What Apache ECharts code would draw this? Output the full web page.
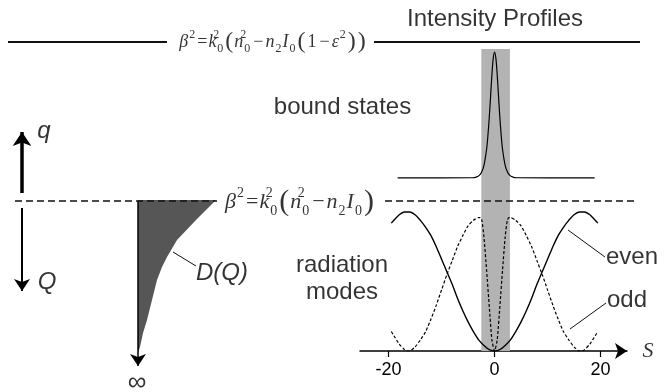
<!DOCTYPE html>
<html>
<head>
<meta charset="utf-8">
<script src="https://cdn.jsdelivr.net/npm/echarts@6/dist/echarts.min.js"></script>
<style>
  html, body { margin: 0; background: #fff; }
  #chart { width: 672px; height: 392px; }
</style>
</head>
<body>
<div id="chart"></div>
<script>
// intensity profiles (right panel), s on the x axis
const evenS = [-19.5, -19, -18, -17, -16.5, -16, -15, -14, -13, -12, -11, -10, -9, -8, -7, -6, -5, -4, -3, -2, -1, 0,
  1, 2, 3, 4, 5, 6, 7, 8, 9, 10, 11, 12, 13, 14, 15, 16, 16.5, 17, 18, 19, 19.5]
const evenV = [0.92, 0.94, 0.98, 1.0, 1.0, 1.0, 0.98, 0.94, 0.89, 0.83, 0.75, 0.66, 0.57, 0.48, 0.38, 0.29, 0.21, 0.14, 0.08, 0.04, 0.01, 0,
  0.01, 0.04, 0.08, 0.14, 0.21, 0.29, 0.38, 0.48, 0.57, 0.66, 0.75, 0.83, 0.89, 0.94, 0.98, 1.0, 1.0, 1.0, 0.98, 0.94, 0.92]

const oddS = [-19.5, -19, -18, -17, -16.5, -16, -15, -14, -13, -12, -11, -10, -9, -8, -7, -6, -5, -4, -3, -2.7, -2.4, -2, -1.5, -1, -0.5, 0,
  0.5, 1, 1.5, 2, 2.4, 2.7, 3, 4, 5, 6, 7, 8, 9, 10, 11, 12, 13, 14, 15, 16, 16.5, 17, 18, 19, 19.5]
const oddV = [0.14, 0.11, 0.05, 0.01, 0, 0, 0.03, 0.08, 0.14, 0.23, 0.33, 0.44, 0.55, 0.65, 0.75, 0.83, 0.90, 0.94, 0.96, 0.96, 0.94, 0.82, 0.58, 0.32, 0.08, 0,
  0.08, 0.32, 0.58, 0.82, 0.94, 0.96, 0.96, 0.94, 0.90, 0.83, 0.75, 0.65, 0.55, 0.44, 0.33, 0.23, 0.14, 0.08, 0.03, 0, 0, 0.01, 0.05, 0.11, 0.14]

const boundS = [-18.3, -4, -3.5, -3, -2.5, -2, -1.5, -1.25, -1, -0.75, -0.5, -0.25, 0, 0.25, 0.5, 0.75, 1, 1.25, 1.5, 2, 2.5, 3, 3.5, 4, 18.9]
const boundV = [1.245, 1.247, 1.251, 1.26, 1.283, 1.336, 1.453, 1.552, 1.68, 1.832, 1.987, 2.106, 2.151, 2.106, 1.987, 1.832, 1.68, 1.552, 1.453, 1.336, 1.283, 1.26, 1.251, 1.247, 1.245]

const bandS = [-2.5, 2.9]
const bandTop = 2.173
const sTicks = [-20, 0, 20]

// schematic (left panel + level lines), in canvas-sized diagram units
const dqX = [216, 196, 177, 167, 162, 157, 152, 147, 143, 140, 138]
const dqY = [200, 220, 240, 257, 267, 280, 300, 320, 333, 347, 353]
const solidLevels = [[[8, 42], [167, 42]], [[374, 42], [640, 42]]]
const dashedLevels = [[[15, 201], [217, 201]], [[385, 201], [638, 201]]]
const upArrow = [[22, 193], [22, 132]]
const downArrow = [[22, 208], [22, 291]]
const dqArrow = [[138, 201], [138, 366]]
const leaders = [[[173, 252], [196, 266]], [[568, 230], [605, 257]], [[570, 329], [606, 303]]]

const plainTexts = ['Intensity Profiles', 'bound states', 'radiation', 'modes', 'even', 'odd']
const plainPos = [[495, 19], [342.5, 107], [342, 265], [342, 292], [632, 257], [627, 300]]
const italicTexts = ['q', 'Q', 'D(Q)']
const italicPos = [[44, 131], [47, 282], [222, 273]]

const formulaTop = '{v|β}{sp|2}{r|=}{v|k}{st|2}{sb|0}{p|(}{v|n}{st|2}{sb|0}{m|−}{v|n}{sb|2}{v|I}{sb|0}{p|(}{r|1}{m|−}{v|ε}{sp|2}{p|)}{p|)}'
const formulaMid = '{v|β}{sp|2}{r|=}{v|k}{st|2}{sb|0}{p|(}{v|n}{st|2}{sb|0}{m|−}{v|n}{sb|2}{v|I}{sb|0}{p|)}'
const formulaPos = [[273, 42], [300, 202]]

const sans = 'Liberation Sans'
const serif = 'Liberation Serif'
const ink = '#000'
const zip = (xs, ys) => xs.map((x, i) => [x, ys[i]])

// rich styles for the math labels at a given base size
const mathRich = (fs) => {
  const sub = Math.round(fs * 0.64)
  const lh = Math.round(fs * 1.45)
  return {
    v: { fontFamily: serif, fontStyle: 'italic', fontSize: fs, lineHeight: lh, color: ink },
    r: { fontFamily: serif, fontSize: fs, lineHeight: lh, color: ink, padding: [0, 1] },
    m: { fontFamily: serif, fontSize: fs, lineHeight: lh, color: ink, padding: [0, 2] },
    p: { fontFamily: serif, fontSize: Math.round(fs * 1.36), lineHeight: lh, color: ink, padding: [0, 1] },
    sp: { fontFamily: serif, fontSize: sub, lineHeight: sub, verticalAlign: 'top', color: ink, padding: [0, 1] },
    st: { fontFamily: serif, fontSize: sub, lineHeight: sub, verticalAlign: 'top', width: 0, color: ink },
    sb: { fontFamily: serif, fontSize: sub, lineHeight: sub + 2, verticalAlign: 'bottom', color: ink, padding: [0, 1] }
  }
}

const textItems = []
plainTexts.forEach((t, i) => textItems.push({ value: plainPos[i], label: { formatter: t, fontFamily: sans, fontSize: 24 } }))
italicTexts.forEach((t, i) => textItems.push({ value: italicPos[i], label: { formatter: t, fontFamily: sans, fontSize: 24, fontStyle: 'italic' } }))
textItems.push({ value: [137, 383], label: { formatter: '∞', fontFamily: sans, fontSize: 26 } })
textItems.push({ value: [648, 351], label: { formatter: 'S', fontFamily: serif, fontSize: 22, fontStyle: 'italic' } })
textItems.push({ value: formulaPos[0], label: { formatter: formulaTop, rich: mathRich(18) } })
textItems.push({ value: formulaPos[1], label: { formatter: formulaMid, rich: mathRich(22) } })

const chart = echarts.init(document.getElementById('chart'))
chart.setOption({
  animation: false,
  backgroundColor: '#fff',
  grid: [
    { left: 0, right: 0, top: 0, bottom: 0 },
    { left: 360, right: 45, top: 3.5, bottom: 41 }
  ],
  xAxis: [
    { gridIndex: 0, type: 'value', min: 0, max: 672, show: false },
    {
      gridIndex: 1, type: 'value', min: -25.4, max: 25.0,
      axisLine: { show: true, onZero: false, symbol: ['none', 'arrow'], symbolSize: [12, 12], lineStyle: { color: '#000', width: 1.5 } },
      axisTick: { show: true, customValues: sTicks, length: 6, lineStyle: { color: '#000', width: 1.2 } },
      axisLabel: { customValues: sTicks, color: ink, fontFamily: sans, fontSize: 18, margin: 10 },
      splitLine: { show: false }
    }
  ],
  yAxis: [
    { gridIndex: 0, type: 'value', min: 0, max: 392, inverse: true, show: false },
    { gridIndex: 1, type: 'value', min: 0, max: 2.5, show: false }
  ],
  series: [
    {
      type: 'line', xAxisIndex: 1, yAxisIndex: 1, z: 1, silent: true,
      data: bandS.map(s => [s, bandTop]), showSymbol: false,
      lineStyle: { width: 0 }, areaStyle: { color: '#b3b3b3', opacity: 1, origin: 'start' }
    },
    {
      type: 'line', xAxisIndex: 1, yAxisIndex: 1, z: 3, silent: true, smooth: 0.3,
      data: zip(boundS, boundV), showSymbol: false, lineStyle: { color: '#000', width: 1.2 }
    },
    {
      type: 'line', xAxisIndex: 1, yAxisIndex: 1, z: 3, silent: true, smooth: 0.3,
      data: zip(evenS, evenV), showSymbol: false, lineStyle: { color: '#000', width: 1.4 }
    },
    {
      type: 'line', xAxisIndex: 1, yAxisIndex: 1, z: 3, silent: true, smooth: 0.2,
      data: zip(oddS, oddV), showSymbol: false, lineStyle: { color: '#000', width: 1.2, type: [3, 2] }
    },
    {
      type: 'line', xAxisIndex: 0, yAxisIndex: 0, z: 2, silent: true,
      data: zip(dqX, dqY), showSymbol: false,
      lineStyle: { width: 0 }, areaStyle: { color: '#565656', opacity: 1, origin: 200 }
    },
    {
      type: 'lines', coordinateSystem: 'cartesian2d', xAxisIndex: 0, yAxisIndex: 0, z: 4, silent: true,
      data: solidLevels.map(c => ({ coords: c })), symbol: 'none',
      lineStyle: { color: '#111', width: 2, opacity: 1 }
    },
    {
      type: 'lines', coordinateSystem: 'cartesian2d', xAxisIndex: 0, yAxisIndex: 0, z: 5, silent: true,
      data: dashedLevels.map(c => ({ coords: c })), symbol: 'none',
      lineStyle: { color: '#111', width: 1.6, type: [7, 4], opacity: 1 }
    },
    {
      type: 'lines', coordinateSystem: 'cartesian2d', xAxisIndex: 0, yAxisIndex: 0, z: 4, silent: true,
      data: [{ coords: upArrow }], symbol: ['none', 'arrow'], symbolSize: [13, 14],
      lineStyle: { color: '#000', width: 3.5, opacity: 1 }
    },
    {
      type: 'lines', coordinateSystem: 'cartesian2d', xAxisIndex: 0, yAxisIndex: 0, z: 4, silent: true,
      data: [{ coords: downArrow }], symbol: ['none', 'arrow'], symbolSize: [12, 12],
      lineStyle: { color: '#000', width: 2, opacity: 1 }
    },
    {
      type: 'lines', coordinateSystem: 'cartesian2d', xAxisIndex: 0, yAxisIndex: 0, z: 4, silent: true,
      data: [{ coords: dqArrow }], symbol: ['none', 'arrow'], symbolSize: [10, 12],
      lineStyle: { color: '#000', width: 1.5, opacity: 1 }
    },
    {
      type: 'lines', coordinateSystem: 'cartesian2d', xAxisIndex: 0, yAxisIndex: 0, z: 4, silent: true,
      data: leaders.map(c => ({ coords: c })), symbol: 'none',
      lineStyle: { color: '#111', width: 1, opacity: 1 }
    },
    {
      type: 'scatter', xAxisIndex: 0, yAxisIndex: 0, z: 6, silent: true,
      symbolSize: 0, data: textItems,
      label: { show: true, position: 'inside', color: ink }
    }
  ]
})
</script>
</body>
</html>
